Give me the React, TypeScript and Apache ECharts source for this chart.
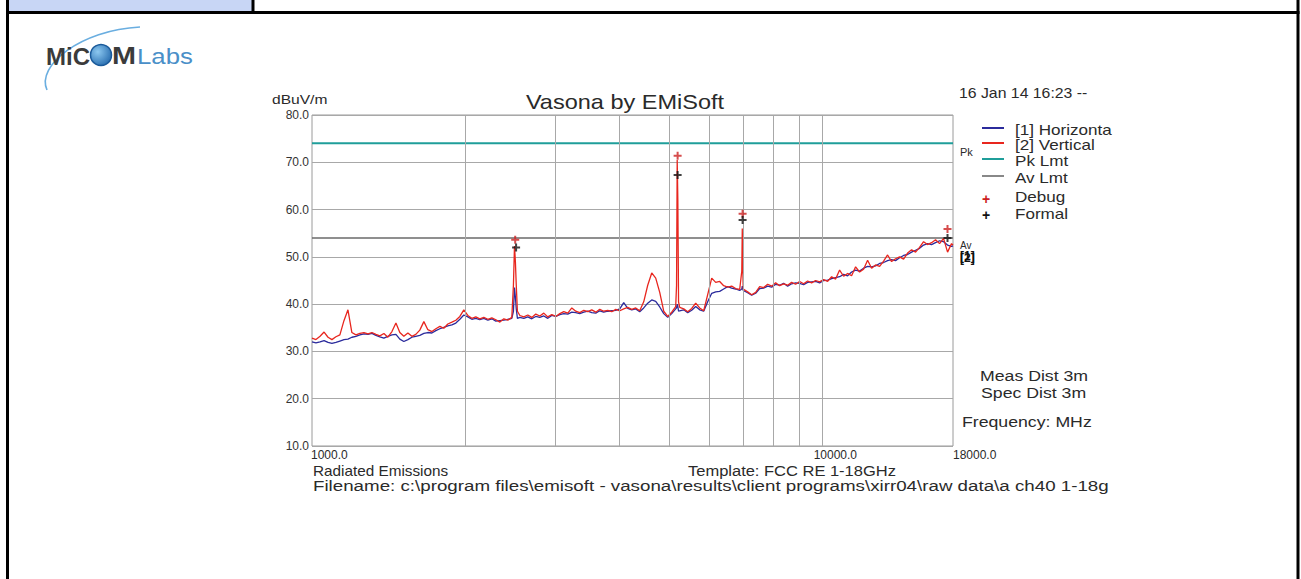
import React, { useEffect, useRef } from "react";
import * as echarts from "echarts";

// ---- data ----
const freqMHz = [
  1000, 1018, 1037, 1056, 1075, 1094, 1114, 1134, 1155, 1176, 1197, 1219, 1241, 1264, 1287, 1310,
  1334, 1358, 1383, 1408, 1434, 1460, 1486, 1513, 1541, 1569, 1597, 1626, 1656, 1686, 1717, 1748,
  1780, 1812, 1845, 1879, 1913, 1948, 1983, 2019, 2056, 2093, 2131, 2170, 2210, 2250, 2291, 2333,
  2375, 2418, 2462, 2480, 2492, 2502, 2512, 2525, 2553, 2599, 2646, 2694, 2743, 2793, 2844, 2896,
  2948, 3002, 3057, 3112, 3169, 3227, 3285, 3345, 3406, 3468, 3531, 3595, 3660, 3727, 3795, 3864,
  3934, 4006, 4078, 4153, 4228, 4305, 4383, 4463, 4544, 4627, 4711, 4797, 4884, 4973, 5063, 5155,
  5175, 5190, 5205, 5222, 5249, 5345, 5442, 5541, 5642, 5744, 5849, 5955, 6064, 6174, 6286, 6400,
  6517, 6635, 6756, 6879, 6945, 6960, 6972, 6990, 7131, 7261, 7393, 7528, 7664, 7804, 7946, 8090,
  8237, 8387, 8540, 8695, 8853, 9014, 9178, 9345, 9515, 9688, 9865, 10044, 10227, 10413, 10602, 10795,
  10991, 11191, 11395, 11602, 11813, 12028, 12247, 12470, 12697, 12928, 13163, 13402, 13646, 13894, 14147, 14404,
  14666, 14933, 15205, 15481, 15763, 16049, 16341, 16638, 16941, 17249, 17563, 17882, 18000,
];

const verticalDb = [
  32.8, 32.5, 33.2, 34.1, 33.0, 32.5, 33.1, 33.5, 36.5, 38.8, 34.0, 33.5, 33.8, 34.0, 33.7, 34.0,
  33.6, 33.3, 33.8, 33.0, 34.2, 36.0, 34.0, 33.2, 33.9, 33.2, 33.6, 34.5, 36.3, 34.6, 34.2, 34.8,
  35.3, 34.9, 35.8, 36.2, 36.6, 37.4, 38.8, 37.6, 37.0, 37.3, 36.9, 37.2, 36.8, 37.1, 36.7, 36.2,
  36.9, 36.6, 37.2, 44.0, 52.3, 49.0, 44.0, 38.5, 37.6, 37.3, 37.7, 37.2, 37.9, 37.5, 38.1, 37.3,
  37.8, 37.4, 38.0, 38.4, 38.1, 39.2, 38.5, 38.2, 38.7, 38.4, 38.8, 38.3, 38.9, 38.5, 38.7, 38.4,
  38.9, 38.6, 39.0, 39.3, 38.9, 39.2, 38.6, 40.5, 44.0, 46.6, 45.5, 42.5, 38.5, 37.4, 38.3, 39.5,
  44.0, 70.5, 62.0, 40.5, 39.3, 39.0, 38.4, 39.1, 40.2, 39.2, 38.6, 42.0, 45.5, 44.6, 44.8, 43.9,
  43.6, 43.8, 43.3, 43.1, 47.0, 56.0, 49.0, 43.2, 42.6, 42.0, 42.5, 43.7, 43.5, 44.2, 43.8, 44.5,
  43.9, 44.3, 44.0, 44.6, 44.2, 44.8, 44.3, 44.9, 44.5, 45.0, 44.7, 45.2, 44.8, 45.8, 45.3, 47.2,
  45.9, 46.5, 46.0, 47.9, 46.8, 47.4, 49.3, 47.6, 48.3, 48.0, 49.1, 50.4, 49.0, 49.6, 50.0, 49.5,
  50.8, 51.5, 51.0, 52.0, 53.2, 52.6, 53.0, 53.6, 52.8, 53.9, 51.0, 52.8, 52.5,
];

const horizontalDb = [
  32.0, 31.8, 32.0, 32.3, 31.9, 31.7, 31.9, 32.2, 32.5, 32.6, 33.0, 33.2, 33.5, 33.7, 33.6, 33.8,
  33.4, 33.1, 32.8, 33.2, 33.5, 33.6, 32.6, 32.1, 32.5, 33.0, 33.2, 33.4, 33.8, 34.0, 33.9, 34.4,
  34.8, 35.1, 35.4, 35.6, 36.0, 36.8, 37.7, 37.3, 36.8, 37.0, 36.7, 37.0, 36.6, 36.9, 36.4, 36.5,
  36.6, 36.8, 37.0, 38.5, 43.5, 41.5, 39.0, 37.0, 37.2, 37.0, 37.3, 36.9, 37.4, 37.2, 37.5, 37.0,
  37.6, 37.4, 37.8, 38.0, 37.9, 38.3, 38.2, 38.0, 38.3, 38.5, 38.2, 38.1, 38.6, 38.3, 38.5, 38.6,
  38.7, 39.0, 40.3, 39.1, 38.8, 39.0, 38.4, 39.2, 40.2, 40.9, 40.6, 39.4, 38.0, 37.2, 38.0, 39.0,
  39.2, 40.0, 39.5, 38.5, 38.6, 38.8, 38.2, 38.7, 39.5, 38.8, 38.5, 40.5, 42.3, 42.6, 42.7, 43.2,
  43.7, 43.4, 43.2, 42.9, 43.2, 43.8, 43.4, 42.9, 42.4, 41.9, 42.3, 43.3, 43.4, 43.8, 43.6, 44.2,
  44.0, 44.4, 43.8, 44.3, 44.5, 44.4, 44.1, 44.6, 44.7, 44.8, 44.5, 45.0, 45.1, 45.4, 45.6, 45.8,
  46.3, 46.0, 46.8, 47.2, 47.0, 47.6, 48.0, 47.9, 48.1, 48.6, 48.8, 49.2, 49.4, 49.2, 49.8, 50.3,
  50.5, 51.0, 51.4, 51.8, 52.5, 52.8, 52.6, 53.0, 53.4, 53.2, 52.5, 52.2, 52.3,
];

const pkLimitDb = 74;
const avLimitDb = 54;
const debugFreq = [2500, 5200, 6970, 17560];
const debugDb = [53.6, 71.4, 59.1, 55.9];
const formalFreq = [2510, 5200, 6970, 17560];
const formalDb = [52.0, 67.3, 57.8, 54.0];
const xMin = 1000;
const xMax = 18000;
const yMin = 10;
const yMax = 80;
const yStep = 10;
const gridFreqs = [2000, 3000, 4000, 5000, 6000, 7000, 8000, 9000, 10000];
const xTickLabels = [1000, 10000, 18000];

const legendNames = ["[1] Horizonta", "[2] Vertical", "Pk Lmt", "Av Lmt", "Debug", "Formal"];

const F = 'Arial, "Liberation Sans", Helvetica, sans-serif';
const C_H = "#2b2b9c";
const C_V = "#e8261e";
const C_PK = "#1f9e9a";
const C_AV = "#6a6a6a";
const PLUS = "path://M3,0H5V3H8V5H5V8H3V5H0V3H3Z";

function txt(text: string, x: number, y: number, size: number, opts: any = {}) {
  return {
    type: "text",
    x,
    y,
    scaleX: opts.sx ?? 1.15,
    z: 100,
    silent: true,
    style: {
      text,
      font: `${opts.weight ?? "normal"} ${size}px ${opts.family ?? F}`,
      fill: opts.fill ?? "#2a2a2a",
      textAlign: opts.align ?? "left",
      textVerticalAlign: "middle",
      verticalAlign: "middle",
    },
  };
}

export default function App() {
  const ref = useRef<HTMLDivElement>(null);
  useEffect(() => {
    document.body.style.margin = "0";
    const chart = echarts.init(ref.current!, null, { renderer: "svg" });
    const vData = freqMHz.map((f, i) => [f, verticalDb[i]]);
    const hData = freqMHz.map((f, i) => [f, horizontalDb[i]]);
    const option: any = {
      animation: false,
      backgroundColor: "#ffffff",
      grid: {
        left: 312,
        top: 115,
        width: 641,
        height: 331,
        show: true,
        borderColor: "#9a9a9a",
        borderWidth: 1,
      },
      xAxis: {
        type: "log",
        logBase: 10,
        min: xMin,
        max: xMax,
        axisLine: { show: false },
        axisTick: { show: false },
        axisLabel: { show: false },
        splitLine: { show: false },
        minorTick: { show: false },
      },
      yAxis: {
        type: "value",
        min: yMin,
        max: yMax,
        interval: yStep,
        axisLine: { show: false },
        axisTick: { show: false },
        splitLine: { show: true, lineStyle: { color: "#a8a8a8", width: 1 } },
        axisLabel: {
          formatter: (v: number) => v.toFixed(1),
          fontFamily: F,
          fontSize: 12,
          color: "#333",
          margin: 3,
          padding: [0, 0, 5, 0],
        },
      },
      series: [
        {
          name: "grid",
          type: "line",
          data: [],
          silent: true,
          z: 1,
          markLine: {
            silent: true,
            symbol: ["none", "none"],
            label: { show: false },
            lineStyle: { color: "#a8a8a8", width: 1, type: "solid" },
            data: gridFreqs.map((v) => ({ xAxis: v })),
          },
        },
        {
          name: "Pk Lmt",
          type: "line",
          data: [[xMin, pkLimitDb], [xMax, pkLimitDb]],
          symbol: "none",
          lineStyle: { color: C_PK, width: 2 },
          z: 2,
        },
        {
          name: "Av Lmt",
          type: "line",
          data: [[xMin, avLimitDb], [xMax, avLimitDb]],
          symbol: "none",
          lineStyle: { color: C_AV, width: 1.5 },
          z: 2,
        },
        {
          name: "[1] Horizontal",
          type: "line",
          data: hData,
          symbol: "none",
          lineStyle: { color: C_H, width: 1.3 },
          z: 3,
        },
        {
          name: "[2] Vertical",
          type: "line",
          data: vData,
          symbol: "none",
          lineStyle: { color: C_V, width: 1.3 },
          z: 4,
        },
        {
          name: "Debug",
          type: "scatter",
          data: debugFreq.map((f, i) => [f, debugDb[i]]),
          symbol: PLUS,
          symbolSize: 8,
          itemStyle: { color: "#cc2020" },
          z: 5,
        },
        {
          name: "Formal",
          type: "scatter",
          data: formalFreq.map((f, i) => [f, formalDb[i]]),
          symbol: PLUS,
          symbolSize: 8,
          itemStyle: { color: "#111" },
          z: 6,
        },
      ],
    };
    chart.setOption(option);

    const px = (v: number) => chart.convertToPixel({ xAxisIndex: 0 }, v) as number;
    const xOffsets = [-1, -9, 0];
    const xLab = xTickLabels.map((v, i) => txt(v.toFixed(1), px(v) + xOffsets[i], 455, 12, { sx: 1 }));

    const legendY = [130, 145, 161, 178, 197, 214];
    const legendLineColors = [C_H, C_V, C_PK, "#888"];
    const legendLineY = [128, 143, 159, 176];
    const legend: any[] = [];
    legendNames.forEach((n, i) => legend.push(txt(n, 1015, legendY[i], 14, { sx: 1.22 })));
    legendLineColors.forEach((c, i) =>
      legend.push({
        type: "line",
        shape: { x1: 982, y1: legendLineY[i], x2: 1004, y2: legendLineY[i] },
        style: { stroke: c, lineWidth: 2 },
        z: 100,
      })
    );
    legend.push(txt("+", 986, 199, 14, { sx: 1, fill: "#cc2020", align: "center", weight: "bold" }));
    legend.push(txt("+", 986, 215, 14, { sx: 1, fill: "#111", align: "center", weight: "bold" }));

    const graphic: any[] = [
      // page frame
      { type: "rect", shape: { x: 8, y: 0, width: 245, height: 11 }, style: { fill: "#c8d6f5" }, z: 50 },
      { type: "line", shape: { x1: 253, y1: 0, x2: 253, y2: 13 }, style: { stroke: "#000", lineWidth: 3 }, z: 51 },
      { type: "line", shape: { x1: 6, y1: 12.5, x2: 1299.5, y2: 12.5 }, style: { stroke: "#000", lineWidth: 3 }, z: 51 },
      { type: "line", shape: { x1: 7.5, y1: 0, x2: 7.5, y2: 579 }, style: { stroke: "#000", lineWidth: 3 }, z: 51 },
      { type: "line", shape: { x1: 1298, y1: 0, x2: 1298, y2: 579 }, style: { stroke: "#000", lineWidth: 3 }, z: 51 },
      // logo
      {
        type: "bezierCurve",
        shape: { x1: 47, y1: 90, cpx1: 36, cpy1: 66, cpx2: 80, cpy2: 30, x2: 140, y2: 27 },
        style: { stroke: "#6aaee0", lineWidth: 1.6, fill: "none" },
        z: 60,
      },
      txt("MiC", 46, 56, 24, { sx: 1, weight: "bold", fill: "#3b3b3b" }),
      {
        type: "circle",
        shape: { cx: 101, cy: 55, r: 10.5 },
        style: {
          fill: new echarts.graphic.RadialGradient(0.35, 0.35, 0.8, [
            { offset: 0, color: "#8cc8f0" },
            { offset: 1, color: "#1d63a8" },
          ]),
          stroke: "#1a5a9a",
          lineWidth: 1.5,
        },
        z: 60,
      },
      txt("M", 112, 56, 24, { sx: 1.2, weight: "bold", fill: "#3b3b3b" }),
      txt("Labs", 137, 56, 23, { sx: 1.12, fill: "#4a8fc8" }),
      // chart texts
      txt("dBuV/m", 272, 99, 13, { sx: 1.2 }),
      txt("Vasona by EMiSoft", 625, 102, 21, { sx: 1.12, align: "center" }),
      txt("16 Jan 14 16:23 --", 959, 93, 14, { sx: 1.13 }),
      txt("Pk", 960, 152, 11, { sx: 1 }),
      txt("Av", 960, 245, 10, { sx: 1 }),
      txt("[1]", 960, 256, 12, { sx: 1, weight: "bold", fill: "#111" }),
      txt("[2]", 960, 258, 12, { sx: 1, weight: "bold", fill: "#111" }),
      txt("Meas Dist 3m", 980, 376, 15, { sx: 1.18 }),
      txt("Spec Dist 3m", 981, 393, 15, { sx: 1.18 }),
      txt("Frequency: MHz", 962, 422, 15, { sx: 1.18 }),
      txt("Radiated Emissions", 313, 471, 15, { sx: 1.02 }),
      txt("Template: FCC RE 1-18GHz", 688, 471, 15, { sx: 1.1 }),
      txt(
        "Filename: c:\\program files\\emisoft - vasona\\results\\client programs\\xirr04\\raw data\\a ch40 1-18g",
        313,
        486,
        15,
        { sx: 1.25 }
      ),
      ...xLab,
      ...legend,
    ];
    chart.setOption({ graphic });
    return () => chart.dispose();
  }, []);
  return <div ref={ref} style={{ width: 1301, height: 579 }} />;
}
